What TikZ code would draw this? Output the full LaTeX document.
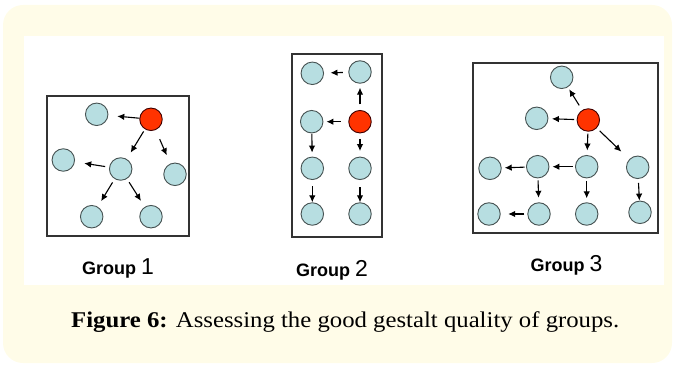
\documentclass[tikz,border=0pt]{standalone}
\usepackage{fontspec}
\usetikzlibrary{arrows.meta}
\newfontfamily\lblfont{Liberation Sans}
\newfontfamily\capfont[FakeStretch=1.1]{Liberation Serif}
\definecolor{panelbg}{RGB}{255,252,232}
\definecolor{nodeblue}{RGB}{183,222,225}
\definecolor{nodered}{RGB}{255,51,0}
\definecolor{edgegray}{RGB}{70,82,82}
\begin{document}
\begin{tikzpicture}[x=1pt,y=-1pt,
  dot/.style={circle, minimum size=22.5pt, inner sep=0pt, fill=nodeblue, draw=edgegray, line width=0.9pt},
  hot/.style={dot, fill=nodered, draw=black!75!red},
  link/.style 2 args={-{Latex[length=7pt,width=6.5pt]}, line width=1.1pt, shorten <=#1pt, shorten >=#2pt},
  frame/.style={draw=black!80, line width=1.1pt},
  grp/.style={anchor=base west, inner sep=0pt, font=\lblfont}]
\useasboundingbox (0,0) rectangle (674,366);
% background card and white figure area
\fill[panelbg, rounded corners=20pt] (3,5) rectangle (672,363);
\fill[white] (24,36) rectangle (664,285);

% frames
\draw[frame] (47,96) rectangle (189,236);
\draw[frame] (292,54) rectangle (382,237);
\draw[frame] (473,63) rectangle (658,233);

% group 1
\node[dot] (g1a) at (96.7,114.3) {};
\node[hot] (g1r) at (151,119.3) {};
\node[dot] (g1b) at (63.3,160) {};
\node[dot] (g1c) at (120.7,169) {};
\node[dot] (g1d) at (175,174.3) {};
\node[dot] (g1e) at (91.7,216.7) {};
\node[dot] (g1f) at (151,216.7) {};
\draw[link={0}{9}] (g1r) -- (g1a);
\draw[link={2.5}{7.5}] (g1r) -- (g1c);
\draw[link={10}{9}] (g1r) -- (g1d);
\draw[link={4}{9.5}] (g1c) -- (g1b);
\draw[link={4}{6.5}] (g1c) -- (g1e);
\draw[link={4}{7}] (g1c) -- (g1f);

% group 2
\node[dot] (g2a) at (312.3,73.3) {};
\node[dot] (g2b) at (360,72) {};
\node[dot] (g2c) at (311.7,121.7) {};
\node[hot] (g2r) at (360,121.7) {};
\node[dot] (g2d) at (312.3,168.3) {};
\node[dot] (g2e) at (360,168.3) {};
\node[dot] (g2f) at (312.3,214) {};
\node[dot] (g2g) at (360,214) {};
\draw[link={5.5}{6.5}] (g2b) -- (g2a);
\draw[link={5.5}{4}] (g2r) -- (g2b);
\draw[link={7.5}{3}] (g2r) -- (g2c);
\draw[link={0.5}{4}] (g2c) -- (g2d);
\draw[link={5.5}{5.5}] (g2r) -- (g2e);
\draw[link={6.5}{0}] (g2d) -- (g2f);
\draw[link={7.5}{0}] (g2e) -- (g2g);

% group 3
\node[dot] (g3a) at (561.7,77.3) {};
\node[dot] (g3b) at (536.7,118.3) {};
\node[hot] (g3r) at (588.3,120) {};
\node[dot] (g3c) at (490,168.3) {};
\node[dot] (g3d) at (537.7,166.7) {};
\node[dot] (g3e) at (586.7,166.7) {};
\node[dot] (g3f) at (637.7,167.3) {};
\node[dot] (g3g) at (489,214) {};
\node[dot] (g3h) at (539,214) {};
\node[dot] (g3i) at (586.7,214) {};
\node[dot] (g3j) at (640,212.3) {};
\draw[link={5.5}{2.5}] (g3r) -- (g3a);
\draw[link={2.5}{3.5}] (g3r) -- (g3b);
\draw[link={2}{4.5}] (g3r) -- (g3e);
\draw[link={4}{11}] (g3r) -- (g3f);
\draw[link={2}{3}] (g3e) -- (g3d);
\draw[link={1.5}{3}] (g3d) -- (g3c);
\draw[link={2}{4.5}] (g3d) -- (g3h);
\draw[link={2.5}{4}] (g3e) -- (g3i);
\draw[link={4}{0}] (g3f) -- (g3j);
\draw[link={3}{7.5}] (g3h) -- (g3g);

% group labels
\node[grp] (lab1) at (82,274.3) {\fontsize{18}{21}\selectfont\bfseries Group \fontsize{23}{25}\selectfont\mdseries 1};
\node[grp] (lab2) at (296,276.7) {\fontsize{18}{21}\selectfont\bfseries Group \fontsize{23}{25}\selectfont\mdseries 2};
\node[grp] (lab3) at (530.5,271) {\fontsize{18}{21}\selectfont\bfseries Group \fontsize{23}{25}\selectfont\mdseries 3};

% caption
\node[anchor=base west, inner sep=0pt, font=\capfont\fontsize{22.5}{26}\selectfont] (cap) at (71,327) {\textbf{Figure 6:} Assessing the good gestalt quality of groups.};
\end{tikzpicture}
\end{document}
